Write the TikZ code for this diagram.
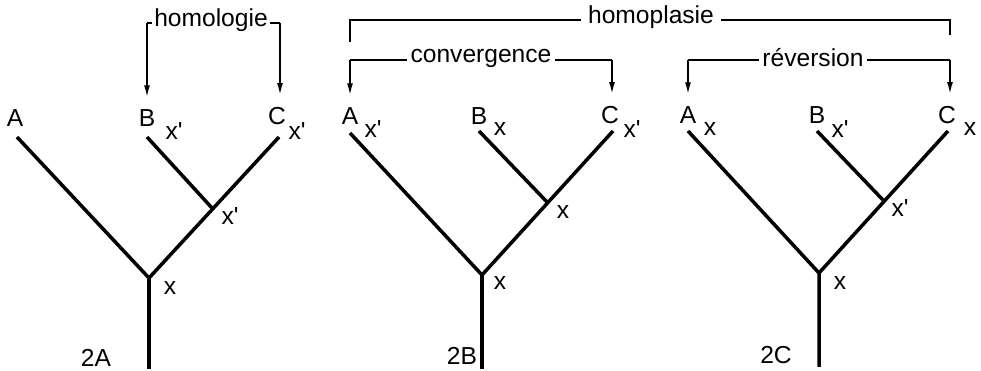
\documentclass[tikz,border=0pt]{standalone}
\usepackage{fontspec}
\setmainfont{Liberation Sans}[Ligatures=TeXOff]
\usepackage{tikz}
\usetikzlibrary{arrows.meta,positioning}

\begin{document}
\begin{tikzpicture}[x=0.02cm, y=-0.02cm,
  branch/.style={line width=2pt},
  taxon/.style={font=\fontsize{14}{16}\selectfont, inner sep=0pt},
  state/.style={font=\fontsize{14}{16}\selectfont, inner sep=0pt},
  tag/.style={font=\fontsize{14}{16}\selectfont, inner sep=2pt},
  bracket/.style={line width=0.9pt},
  arr/.style={-{Latex[length=6.5pt, width=3.4pt]}, line width=0.9pt}
]
  \useasboundingbox (0,0) rectangle (981,371);

  % tree 2A
  \coordinate (a-root) at (149,369);
  \coordinate (a-fork) at (149,278);
  \coordinate (a-in) at (212,208);
  \coordinate (a-tA) at (17,137);
  \coordinate (a-tB) at (147,137);
  \coordinate (a-tC) at (279,137);
  \draw[branch] (a-root) -- (a-fork) -- (a-tA);
  \draw[branch] (a-fork) -- (a-tC);
  \draw[branch] (a-in) -- (a-tB);

  \node[taxon] (a-A) at (15,118) {A};
  \node[taxon] (a-B) at (147,118) {B};
  \node[taxon] (a-C) at (277,116) {C};
  \node[state] (a-sB) at (174,131) {x'};
  \node[state] (a-sC) at (297,131) {x'};
  \node[state] (a-sin) at (230,216) {x'};
  \node[state] (a-sroot) at (170,288) {x};
  \node[taxon] (a-name) at (96,358) {2A};

  % tree 2B
  \coordinate (b-root) at (482,369);
  \coordinate (b-fork) at (482,275);
  \coordinate (b-in) at (547,202);
  \coordinate (b-tA) at (350,133);
  \coordinate (b-tB) at (479,131);
  \coordinate (b-tC) at (613,131);
  \draw[branch] (b-root) -- (b-fork) -- (b-tA);
  \draw[branch] (b-fork) -- (b-tC);
  \draw[branch] (b-in) -- (b-tB);

  \node[taxon] (b-A) at (350,116) {A};
  \node[taxon] (b-B) at (479,116) {B};
  \node[taxon] (b-C) at (610,115) {C};
  \node[state] (b-sA) at (373,129) {x'};
  \node[state] (b-sB) at (500,129) {x};
  \node[state] (b-sC) at (632,129) {x'};
  \node[state] (b-sin) at (563,212) {x};
  \node[state] (b-sroot) at (500,283) {x};
  \node[taxon] (b-name) at (462,356) {2B};

  % tree 2C
  \coordinate (c-root) at (819,367);
  \coordinate (c-fork) at (819,273);
  \coordinate (c-in) at (883,200);
  \coordinate (c-tA) at (688,131);
  \coordinate (c-tB) at (817,131);
  \coordinate (c-tC) at (948,131);
  \draw[branch] (c-root) -- (c-fork) -- (c-tA);
  \draw[branch] (c-fork) -- (c-tC);
  \draw[branch] (c-in) -- (c-tB);

  \node[taxon] (c-A) at (688,115) {A};
  \node[taxon] (c-B) at (817,115) {B};
  \node[taxon] (c-C) at (947,115) {C};
  \node[state] (c-sA) at (710,129) {x};
  \node[state] (c-sB) at (840,129) {x'};
  \node[state] (c-sC) at (970,129) {x};
  \node[state] (c-sin) at (900,208) {x'};
  \node[state] (c-sroot) at (840,283) {x};
  \node[taxon] (c-name) at (776,355) {2C};

  % homologie
  \node[tag, inner sep=1pt] (homol) at (211,20) {homologie};
  \coordinate (homol-l) at (147,23);
  \coordinate (homol-r) at (280,23);
  \draw[bracket] (homol.west |- homol-l) -- (homol-l);
  \draw[bracket] (homol.east |- homol-r) -- (homol-r);
  \draw[arr] (homol-l) -- ([yshift=7pt]a-B.north);
  \draw[arr] (homol-r) -- ([yshift=7pt]homol-r |- a-C.north);

  % homoplasie
  \node[tag, inner sep=4pt] (homop) at (651,17) {homoplasie};
  \coordinate (homop-l) at (350,20);
  \coordinate (homop-r) at (950,20);
  \coordinate (homop-ld) at (350,42);
  \coordinate (homop-rd) at (950,35);
  \draw[bracket] (homop.west |- homop-l) -- (homop-l) -- (homop-ld);
  \draw[bracket] (homop.east |- homop-r) -- (homop-r) -- (homop-rd);

  % convergence
  \node[tag] (conv) at (481,58) {convergence};
  \coordinate (conv-l) at (350,60);
  \coordinate (conv-r) at (612,60);
  \draw[bracket] (conv.west |- conv-l) -- (conv-l);
  \draw[bracket] (conv.east |- conv-r) -- (conv-r);
  \draw[arr] (conv-l) -- ([yshift=7pt]b-A.north);
  \draw[arr] (conv-r) -- ([yshift=7pt]conv-r |- b-C.north);

  % reversion
  \node[tag] (rev) at (813,58) {réversion};
  \coordinate (rev-l) at (688,60);
  \coordinate (rev-r) at (950,60);
  \draw[bracket] (rev.west |- rev-l) -- (rev-l);
  \draw[bracket] (rev.east |- rev-r) -- (rev-r);
  \draw[arr] (rev-l) -- ([yshift=7pt]c-A.north);
  \draw[arr] (rev-r) -- ([yshift=7pt]rev-r |- c-C.north);
\end{tikzpicture}
\end{document}
